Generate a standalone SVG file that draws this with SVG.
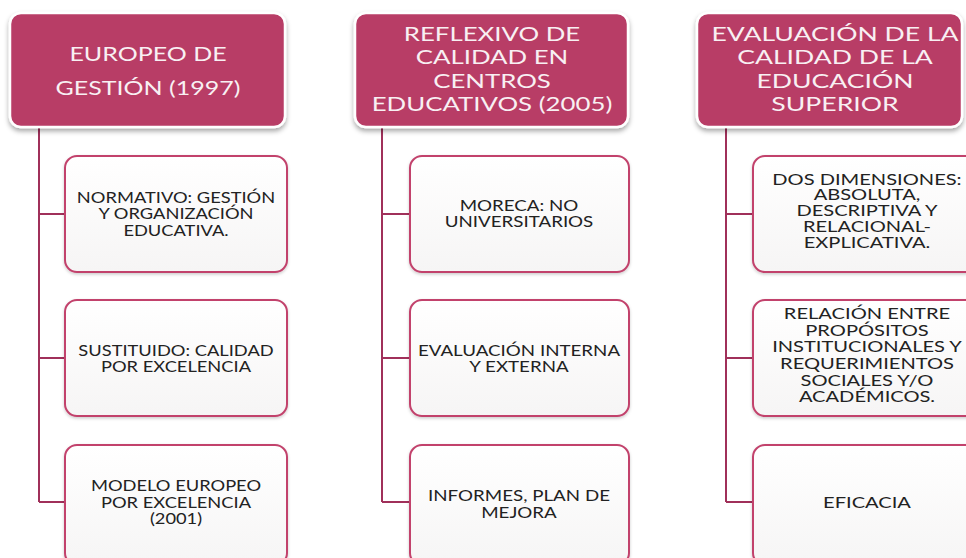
<svg xmlns="http://www.w3.org/2000/svg" width="966" height="558" viewBox="0 0 966 558">
<defs>
<filter id="hs" x="-10%" y="-10%" width="120%" height="130%">
<feDropShadow dx="0" dy="3" stdDeviation="2.5" flood-color="#000" flood-opacity="0.35"/>
</filter>
<filter id="cs" x="-10%" y="-10%" width="120%" height="130%">
<feDropShadow dx="0" dy="1.5" stdDeviation="1.5" flood-color="#000" flood-opacity="0.2"/>
</filter>
<linearGradient id="cg" x1="0" y1="0" x2="0" y2="1">
<stop offset="0" stop-color="#ffffff"/>
<stop offset="1" stop-color="#f6f5f5"/>
</linearGradient>
</defs>
<style>
.hdr{fill:#b83c66;stroke:#ffffff;stroke-width:2.5;filter:url(#hs)}
.chd{fill:url(#cg);stroke:#c2426c;stroke-width:2;filter:url(#cs)}
.ht{font-family:Lato,"Open Sans",sans-serif;fill:#f8f0f3;text-anchor:middle;font-size:20px}
.ct{font-family:Lato,"Open Sans",sans-serif;fill:#222222;text-anchor:middle;font-size:15px}
.con{fill:none;stroke:#a0305a;stroke-width:2}
</style>
<rect width="966" height="558" fill="#ffffff"/>
<g id="connectors">
<path class="con" d="M39,128 V502 M39,214 H65 M39,358 H65 M39,502 H65"/>
<path class="con" d="M382,128 V502 M382,214 H410 M382,358 H410 M382,502 H410"/>
<path class="con" d="M726,128 V502 M726,214 H753 M726,358 H753 M726,502 H753"/>
</g>
<g id="h1"><rect class="hdr" x="10" y="13" width="275" height="114" rx="11"/>
<text class="ht" font-size="21" transform="translate(148,0) scale(1.25,1)"><tspan x="0" y="61">EUROPEO DE</tspan><tspan x="0" y="95">GESTIÓN (1997)</tspan></text></g>
<g id="h2"><rect class="hdr" x="355" y="13" width="273" height="114" rx="11"/>
<text class="ht" transform="translate(492,0) scale(1.29,1)"><tspan x="0" y="41">REFLEXIVO DE</tspan><tspan x="0" y="64">CALIDAD EN</tspan><tspan x="0" y="88">CENTROS</tspan><tspan x="0" y="111">EDUCATIVOS (2005)</tspan></text></g>
<g id="h3"><rect class="hdr" x="697" y="13" width="265" height="114" rx="11"/>
<text class="ht" transform="translate(835,0) scale(1.33,1)"><tspan x="0" y="41">EVALUACIÓN DE LA</tspan><tspan x="0" y="64">CALIDAD DE LA</tspan><tspan x="0" y="88">EDUCACIÓN</tspan><tspan x="0" y="111">SUPERIOR</tspan></text></g>
<g id="c11"><rect class="chd" x="65" y="156" width="222" height="116" rx="12"/>
<text class="ct" transform="translate(176,0) scale(1.22,1)"><tspan x="0" y="203">NORMATIVO: GESTIÓN</tspan><tspan x="0" y="219">Y ORGANIZACIÓN</tspan><tspan x="0" y="236">EDUCATIVA.</tspan></text></g>
<g id="c12"><rect class="chd" x="65" y="300" width="222" height="116" rx="12"/>
<text class="ct" transform="translate(176,0) scale(1.22,1)"><tspan x="0" y="356">SUSTITUIDO: CALIDAD</tspan><tspan x="0" y="372">POR EXCELENCIA</tspan></text></g>
<g id="c13"><rect class="chd" x="65" y="445" width="222" height="120" rx="12"/>
<text class="ct" transform="translate(176,0) scale(1.22,1)"><tspan x="0" y="491">MODELO EUROPEO</tspan><tspan x="0" y="508">POR EXCELENCIA</tspan><tspan x="0" y="524">(2001)</tspan></text></g>
<g id="c21"><rect class="chd" x="410" y="156" width="219" height="116" rx="12"/>
<text class="ct" transform="translate(519,0) scale(1.25,1)"><tspan x="0" y="211">MORECA: NO</tspan><tspan x="0" y="227">UNIVERSITARIOS</tspan></text></g>
<g id="c22"><rect class="chd" x="410" y="300" width="219" height="116" rx="12"/>
<text class="ct" transform="translate(519,0) scale(1.25,1)"><tspan x="0" y="356">EVALUACIÓN INTERNA</tspan><tspan x="0" y="372">Y EXTERNA</tspan></text></g>
<g id="c23"><rect class="chd" x="410" y="445" width="219" height="120" rx="12"/>
<text class="ct" transform="translate(519,0) scale(1.25,1)"><tspan x="0" y="501">INFORMES,  PLAN DE</tspan><tspan x="0" y="518">MEJORA</tspan></text></g>
<g id="c31"><rect class="chd" x="753" y="156" width="232" height="116" rx="12"/>
<text class="ct" transform="translate(867,0) scale(1.34,1)"><tspan x="0" y="185">DOS DIMENSIONES:</tspan><tspan x="0" y="200">ABSOLUTA,</tspan><tspan x="0" y="216">DESCRIPTIVA Y</tspan><tspan x="0" y="232">RELACIONAL-</tspan><tspan x="0" y="248">EXPLICATIVA.</tspan></text></g>
<g id="c32"><rect class="chd" x="753" y="300" width="232" height="116" rx="12"/>
<text class="ct" transform="translate(867,0) scale(1.34,1)"><tspan x="0" y="319">RELACIÓN ENTRE</tspan><tspan x="0" y="336">PROPÓSITOS</tspan><tspan x="0" y="352">INSTITUCIONALES Y</tspan><tspan x="0" y="369">REQUERIMIENTOS</tspan><tspan x="0" y="386">SOCIALES Y/O</tspan><tspan x="0" y="402">ACADÉMICOS.</tspan></text></g>
<g id="c33"><rect class="chd" x="753" y="445" width="232" height="120" rx="12"/>
<text class="ct" transform="translate(867,0) scale(1.34,1)"><tspan x="0" y="508">EFICACIA</tspan></text></g>
</svg>
